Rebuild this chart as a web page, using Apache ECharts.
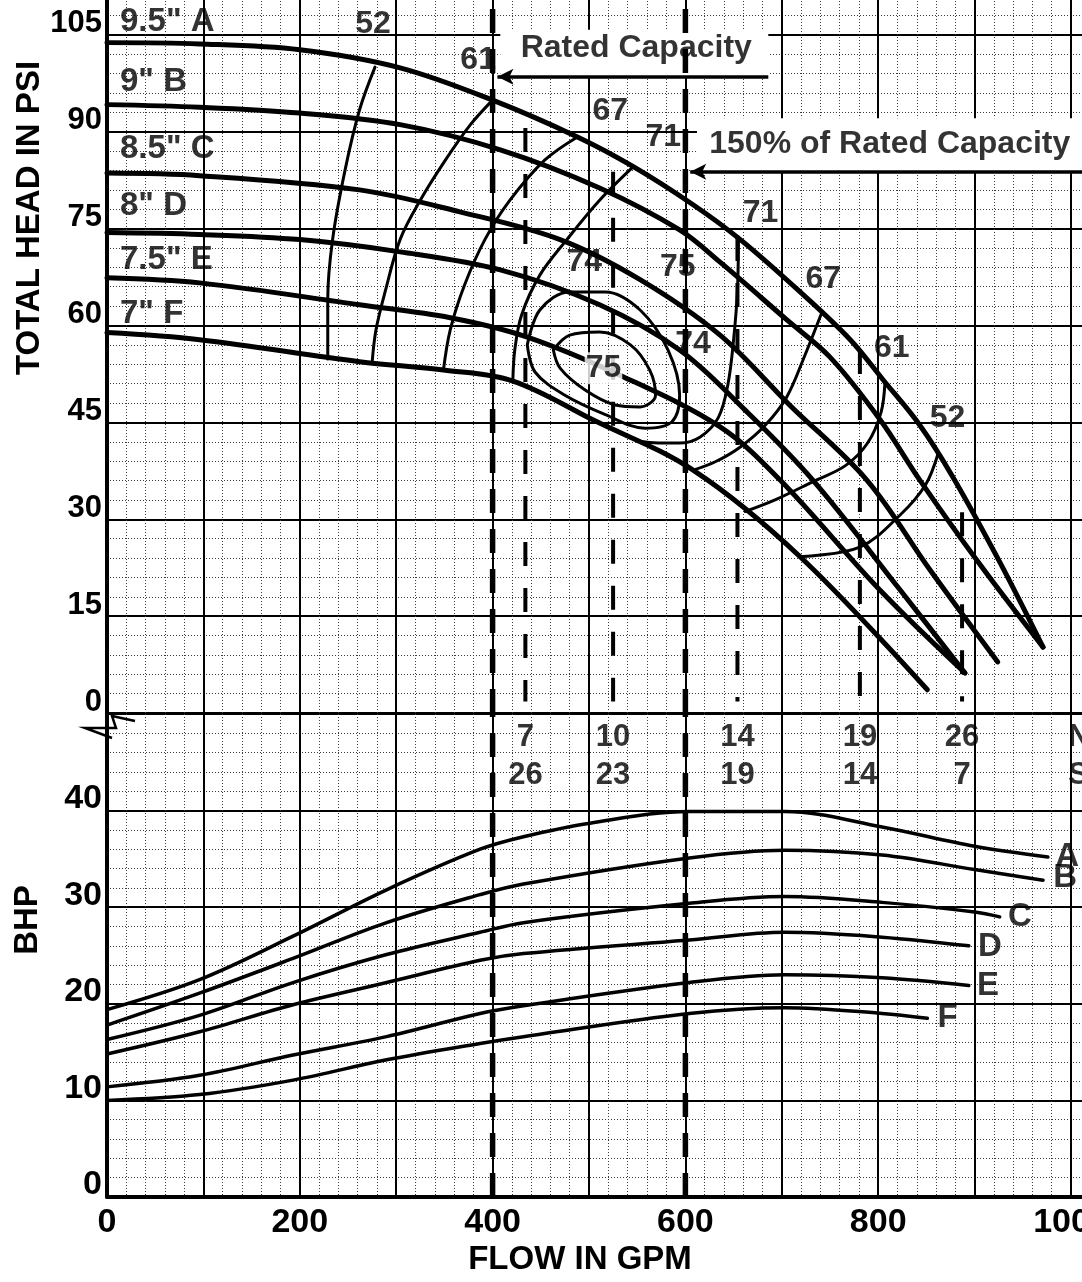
<!DOCTYPE html>
<html><head><meta charset="utf-8">
<script src="https://cdn.jsdelivr.net/npm/echarts@6/dist/echarts.min.js"></script>
<style>html,body{margin:0;padding:0;background:#fff;overflow:hidden}#c{width:1082px;height:1282px}</style>
</head><body><div id="c"></div>
<script>
const FONT = "'Liberation Sans',Arial,sans-serif";

// ---- Head-capacity curves  [GPM, PSI]
const headA = [[0,103.8],[96,103.6],[200,102.7],[304,99.9],[400,94.9],[488,89.2],[546,84.6],[608,78.7],[657,73.3],[719,65.2],[771,57.8],[805,51.6],[843,44.6],[878,36.4],[926,23.4],[971,10.2]];
const headB = [[0,94.2],[96,93.8],[200,92.9],[304,91.1],[408,87.2],[511,81.3],[594,74.8],[636,69.8],[705,60.9],[750,55.1],[802,45.4],[843,36.1],[906,22.9],[971,10.2]];
const headC = [[0,83.6],[96,83.2],[262,81.0],[366,77.6],[470,73.3],[553,67.1],[636,58.5],[708,47.7],[788,36.1],[854,22.1],[924,7.9]];
const headD = [[0,74.4],[96,74.1],[200,73.3],[304,71.4],[408,68.6],[511,63.2],[594,56.2],[662,46.9],[732,36.1],[823,19.0],[890,6.2]];
const headE = [[0,67.4],[96,66.6],[262,63.2],[356,61.2],[436,58.2],[532,52.3],[636,44.3],[698,36.1],[802,19.0],[890,6.2]];
const headF = [[0,58.9],[96,57.8],[262,54.4],[349,53.1],[421,51.4],[504,45.4],[608,37.6],[719,24.2],[851,3.6]];

// ---- Efficiency contours [GPM, PSI]
const eff52L = [[278,100.0],[262,93.4],[247,84.1],[234,73.3],[229,64.0],[229,54.8]];
const eff61L = [[400,94.9],[377,91.1],[351,85.6],[325,79.4],[304,73.3],[289,65.5],[279,59.3],[275,54.2]];
const eff67L = [[488,89.2],[454,85.6],[418,79.4],[392,73.3],[371,66.3],[356,59.3],[349,53.1]];
const eff71L = [[546,84.6],[511,79.4],[477,73.3],[449,67.8],[430,61.6],[423,56.2],[421,51.4]];
const eff74 = [[436,57.0],[449,62.4],[480,65.2],[517,65.2],[553,62.4],[582,56.2],[594,49.2],[586,45.1],[558,44.1],[517,46.2],[475,49.2],[444,52.8],[436,57.0]];
const eff75 = [[463,56.2],[480,58.5],[511,59.0],[543,57.0],[563,53.1],[569,49.2],[553,47.4],[527,47.7],[496,50.0],[470,53.4],[463,56.2]];
const eff71R = [[655,73.7],[654,65.5],[650,57.8],[644,50.8],[634,45.7],[615,42.7],[594,41.8],[572,41.8],[550,42.1]];
const eff67R = [[742,62.2],[724,55.4],[705,48.9],[683,44.6],[657,41.2],[631,38.9],[608,37.6]];
const eff61R = [[807,51.2],[803,46.6],[789,41.8],[766,38.3],[732,35.8],[693,33.0],[662,31.2]];
const eff52R = [[862,40.1],[849,35.3],[823,30.7],[781,25.7],[719,24.2]];

// ---- NPSH / submergence markers
const npshFlow = [434,525,654,781,887];
const npshTop = [90.6,83.8,73.7,56.2,31.1];
const npshRow1 = ['7','10','14','19','26'];
const npshRow2 = ['26','23','19','14','7'];

// ---- BHP curves [GPM, BHP]
const bhpA = [[0,19.4],[96,22.5],[193,27.0],[290,31.8],[387,36.0],[432,37.3],[501,38.7],[604,39.9],[703,39.9],[804,38.3],[900,36.3],[976,35.2]];
const bhpB = [[0,17.8],[96,21.1],[193,24.7],[290,28.4],[387,31.3],[432,32.4],[604,35.1],[703,35.9],[804,35.4],[900,33.9],[971,32.8]];
const bhpC = [[0,16.3],[96,18.8],[193,22.2],[290,25.1],[387,27.4],[432,28.4],[604,30.4],[703,31.1],[804,30.5],[900,29.5],[926,29.0]];
const bhpD = [[0,14.8],[96,17.1],[193,19.9],[290,22.2],[387,24.5],[432,25.2],[604,26.6],[703,27.4],[804,26.9],[894,26.0]];
const bhpE = [[0,11.4],[96,12.6],[193,14.7],[290,16.6],[387,19.0],[432,19.8],[604,22.2],[703,23.0],[804,22.7],[894,21.9]];
const bhpF = [[0,10.0],[96,10.6],[193,12.1],[290,14.2],[387,15.9],[432,16.6],[604,19.0],[703,19.6],[804,19.0],[851,18.5]];

// ---- Text labels
const impLabels = [['9.5" A',13.5,107.0],['9" B',13.5,97.7],['8.5" C',13.5,87.3],['8" D',13.5,78.5],['7.5" E',13.5,70.2],['7" F',13.5,61.8]];
const effLabels = [['52',276,106.7],['61',385,101.1],['67',522,93.2],['71',577,89.2],['74',495,69.8],['75',592,69.1],['74',608,57.1],['71',678,77.4],['67',743,67.1],['61',814,56.5],['52',872,45.7]];
const effCenter = [['75',515,53.4]];
const bhpLabels = [['A',996,35.2],['B',994,33.0],['C',947,29.0],['D',916,25.9],['E',914,21.9],['F',872,18.5]];
const ratedFlow = 400, ratedFlow150 = 600;
const ratedText = [['Rated Capacity',549,103.0]];
const rated150Text = [['150% of Rated Capacity',812,88.0]];

// ---- axes ranges / ticks
const flowMax = 1100, flowStep = 100, flowLabelStep = 200;
const headMax = 120, headStep = 15, headLabelMax = 105;
const bhpMax = 50, bhpStep = 10, bhpLabelMax = 40;

const chart = echarts.init(document.getElementById('c'), null, {renderer:'canvas'});

const minorLine = {show:true, lineStyle:{color:'#3a3a3a', width:1, type:[1,2]}};
const majorLine = {show:true, lineStyle:{color:'#000', width:2}};

function curve(data, g, w, extra){
  return Object.assign({type:'line', xAxisIndex:g, yAxisIndex:g, data:data, smooth:0.35, showSymbol:false, symbol:'none', silent:true,
    lineStyle:{color:'#000', width:w, cap:'round', join:'round'}, z:5}, extra||{});
}
function labels(list, g, size, opt){
  return {type:'scatter', xAxisIndex:g, yAxisIndex:g, symbolSize:0, silent:true, z:8,
    data:list.map(d=>({name:d[0], value:[d[1],d[2]]})),
    label:Object.assign({show:true, position:[0,0], formatter:'{b}', color:'#000', fontFamily:FONT, fontWeight:'bold', fontSize:size, align:'center', verticalAlign:'middle'}, opt||{})};
}

const series = [];
series.push({type:'line', xAxisIndex:0, yAxisIndex:0, data:[], silent:true, z:3,
  markArea:{silent:true, itemStyle:{color:'#fff'}, data:[
    [{coord:[408,98.4]},{coord:[686,105.8]}],
    [{coord:[612,83.9]},{coord:[1100,92.1]}]
  ]},
  markLine:{silent:true, symbol:['none','arrow'], symbolSize:[12,16], label:{show:false},
    lineStyle:{color:'#000', width:3.5, type:'solid'},
    data:[
      [{coord:[686,98.5]},{coord:[ratedFlow+5,98.5]}],
      [{coord:[1100,83.8]},{coord:[ratedFlow150+5,83.8]}]
    ]}
});
[ratedFlow, ratedFlow150].forEach(f=>{
  series.push(curve([[f,0],[f,headMax]],0,5.5,{smooth:false, lineStyle:{color:'#000',width:5.5,type:[24,16]}}));
  series.push(curve([[f,0],[f,bhpMax]],1,5.5,{smooth:false, lineStyle:{color:'#000',width:5.5,type:[24,16]}}));
});
npshFlow.forEach((f,i)=>{
  series.push(curve([[f,npshTop[i]],[f,1.8]],0,4,{smooth:false, lineStyle:{color:'#000',width:4,type:[24,22]}}));
});
[headA,headB,headC,headD,headE,headF].forEach(d=>series.push(curve(d,0,5)));
[eff52L,eff61L,eff67L,eff71L,eff74,eff75,eff71R,eff67R,eff61R,eff52R].forEach(d=>series.push(curve(d,0,3)));
[bhpA,bhpB,bhpC,bhpD,bhpE,bhpF].forEach(d=>series.push(curve(d,1,3.5)));
series.push(labels(impLabels,0,33,{align:'left'}));
series.push(labels(effLabels,0,32));
series.push(labels(effCenter,0,32,{backgroundColor:'#fff', padding:[0,1]}));
series.push(labels(ratedText,0,32));
series.push(labels(rated150Text,0,32));
series.push(labels(bhpLabels,1,33));
series.push(labels(npshFlow.map((f,i)=>[npshRow1[i],f,47.6]),1,31));
series.push(labels(npshFlow.map((f,i)=>[npshRow2[i],f,43.6]),1,31));
series.push(labels([['NPSH',997,47.6],['SUBM',997,43.6]],1,31,{align:'left'}));

const option = {
  animation:false,
  backgroundColor:'#fff',
  grid:[
    {left:107, top:-62, width:1060.4, height:775, outerBoundsMode:'none', containLabel:false},
    {left:107, top:714, width:1060.4, height:483, outerBoundsMode:'none', containLabel:false}
  ],
  xAxis:[
    {gridIndex:0, type:'value', min:0, max:flowMax, interval:flowStep,
     axisLine:{show:false}, axisTick:{show:false}, axisLabel:{show:false},
     splitLine:majorLine, minorTick:{show:false, splitNumber:5}, minorSplitLine:minorLine},
    {gridIndex:1, type:'value', min:0, max:flowMax, interval:flowStep,
     axisLine:{show:true, onZero:false, lineStyle:{color:'#000', width:4}}, axisTick:{show:false},
     axisLabel:{show:true, margin:9, color:'#000', fontFamily:FONT, fontWeight:'bold', fontSize:34,
       formatter:v=> (v % flowLabelStep === 0 && v <= 1000) ? String(v) : ''},
     splitLine:majorLine, minorTick:{show:false, splitNumber:5}, minorSplitLine:minorLine}
  ],
  yAxis:[
    {gridIndex:0, type:'value', min:0, max:headMax, interval:headStep,
     axisLine:{show:true, onZero:false, lineStyle:{color:'#000', width:4}}, axisTick:{show:false},
     axisLabel:{show:true, margin:5, color:'#000', fontFamily:FONT, fontWeight:'bold', fontSize:31,
       verticalAlign:'bottom', lineHeight:22, formatter:v=> v<=headLabelMax ? String(v) : ''},
     splitLine:majorLine, minorTick:{show:false, splitNumber:5}, minorSplitLine:minorLine},
    {gridIndex:1, type:'value', min:0, max:bhpMax, interval:bhpStep,
     axisLine:{show:true, onZero:false, lineStyle:{color:'#000', width:4}}, axisTick:{show:false},
     axisLabel:{show:true, margin:5, color:'#000', fontFamily:FONT, fontWeight:'bold', fontSize:34,
       verticalAlign:'bottom', lineHeight:24, formatter:v=> v<=bhpLabelMax ? String(v) : ''},
     splitLine:majorLine, minorTick:{show:false, splitNumber:5}, minorSplitLine:minorLine}
  ],
  graphic:[
    {type:'text', x:30, y:218, rotation:Math.PI/2, silent:true,
     style:{text:'TOTAL HEAD IN PSI', fill:'#000', font:"bold 33px "+FONT, textAlign:'center', textVerticalAlign:'middle'}},
    {type:'text', x:28, y:920, rotation:Math.PI/2, silent:true,
     style:{text:'BHP', fill:'#000', font:"bold 33px "+FONT, textAlign:'center', textVerticalAlign:'middle'}},
    {type:'text', x:580, y:1260, silent:true,
     style:{text:'FLOW IN GPM', fill:'#000', font:"bold 33px "+FONT, textAlign:'center', textVerticalAlign:'middle'}},
    {type:'polyline', silent:true, z:10, shape:{points:[[135,721],[112,716],[116,728],[85,728],[112,738]]},
     style:{stroke:'#000', lineWidth:2.5, fill:null}}
  ],
  series:series
};
chart.setOption(option);
</script></body></html>
